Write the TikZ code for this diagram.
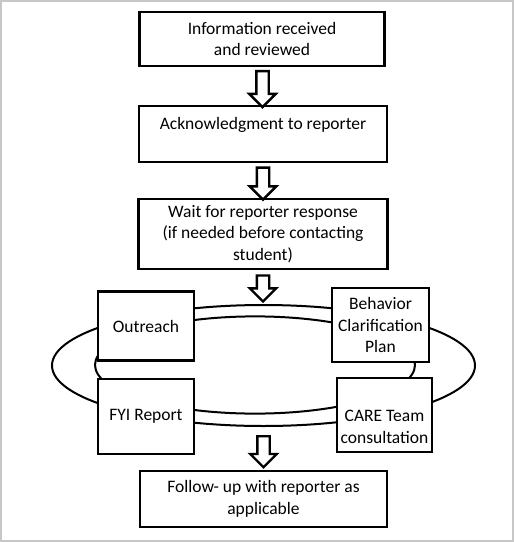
\documentclass[tikz,border=0pt]{standalone}
\usepackage{fontspec}
\setmainfont{Carlito}
\usetikzlibrary{calc, shapes, arrows.meta, positioning}
\tikzset{
    stepbox/.style = {rectangle, draw, line width=2.8pt, fill=white, align=center, inner sep=1pt},% the boxes of the flow
    downarrow/.style = {single arrow, draw, line width=2.4pt, fill=white, rotate=-90, inner xsep=0pt, inner ysep=5pt, single arrow head extend=7pt, single arrow head indent=0pt},
    ring/.style = {line width=2pt}
}

\begin{document}
\begin{tikzpicture}[x=1pt, y=-1pt, font=\fontsize{17.5}{21.5}\selectfont]
    % frame of the page
    \draw[line width=1.6pt, black!22] (0.8,0.8) rectangle (512.8,540.8);
    \useasboundingbox (0,0) rectangle (514,542);
    % the two rings behind the four boxes
    \draw[ring] (263.5,365.5) ellipse [x radius=211.5pt, y radius=60.5pt];
    \draw[ring] (255,365) ellipse [x radius=160pt, y radius=48.6pt];
    % flow boxes
    \node[stepbox, minimum width=245pt, minimum height=54pt] (info) at (262,39) {Information received\\and reviewed};
    \node[stepbox, minimum width=248pt, minimum height=56pt] (ack) at (263,134) {Acknowledgment to reporter\\\mbox{}};
    \node[stepbox, minimum width=249pt, minimum height=70pt] (wait) at (263,234) {Wait for reporter response\\(if needed before contacting\\student)};
    \node[stepbox, minimum width=96pt, minimum height=69pt] (outreach) at (146,326) {Outreach};
    \node[stepbox, minimum width=97pt, minimum height=74pt] (bcp) at (380.5,325) {Behavior\\Clarification\\Plan};
    \node[stepbox, minimum width=96pt, minimum height=75pt] (fyi) at (146,416.5) {FYI Report};
    \node[stepbox, minimum width=95pt, minimum height=74pt] (care) at (384.5,415) {\mbox{}\\[14pt]CARE Team\\consultation};
    \node[stepbox, minimum width=247pt, minimum height=56pt] (follow) at (263.5,499) {Follow- up with reporter as\\applicable};
    % hollow arrows between the steps
    \node[downarrow, minimum height=36pt] (a1) at ($(info.south)!0.5!(ack.north)$) {};
    \node[downarrow, minimum height=32pt] (a2) at ($(ack.south)!0.5!(wait.north)$) {};
    \node[downarrow, minimum height=26pt] (a3) at ($(wait.south)+(0,15)$) {};
    \node[downarrow, minimum height=31pt] (a4) at ($(follow.north)+(0,-21)$) {};
\end{tikzpicture}
\end{document}
